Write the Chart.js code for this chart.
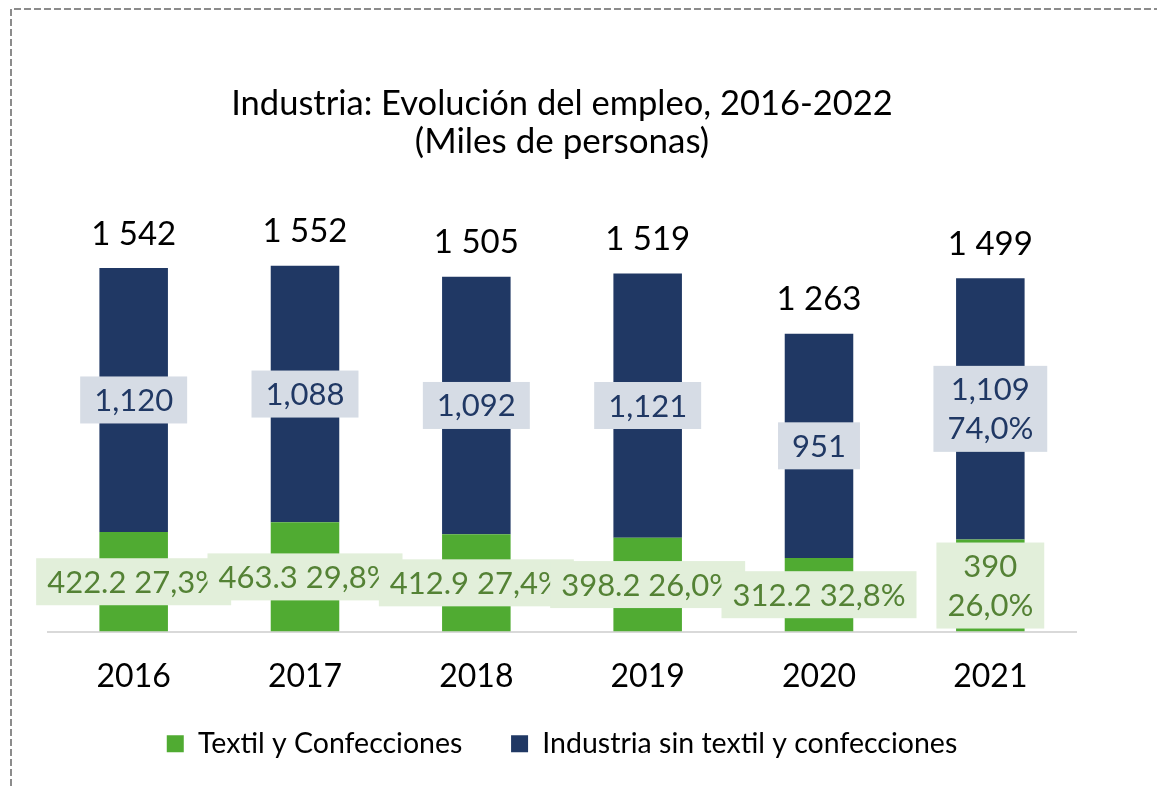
<!DOCTYPE html>
<html lang="es">
<head>
<meta charset="utf-8">
<title>Industria: Evolución del empleo</title>
<script src="https://cdn.jsdelivr.net/npm/chart.js@4.4.1/dist/chart.umd.min.js"></script>
<style>
  html, body { margin: 0; padding: 0; background: #fff; }
  #contenedor { position: relative; width: 1157px; height: 786px; }
</style>
</head>
<body>
<div id="contenedor"><canvas id="grafico" width="1157" height="786"></canvas></div>
<script>
// Datos (miles de personas)
const anios = ['2016', '2017', '2018', '2019', '2020', '2021'];
const textil = [422.2, 463.3, 412.9, 398.2, 312.2, 390];
const industria = [1120, 1088, 1092, 1121, 951, 1109];
const totales = [1542, 1552, 1505, 1519, 1263, 1499];
const pctTextil = ['27,3%', '29,8%', '27,4%', '26,0%', '32,8%', '26,0%'];
const pctIndustria = ['', '', '', '', '', '74,0%'];
const dosLineas = [false, false, false, false, false, true];

const VERDE = '#50ab32';
const AZUL = '#203864';
const FUENTE = 'Lato';

// "1542" -> "1 542"
function fmtTotal(v) {
    return String(v).replace(/\B(?=(\d{3})+(?!\d))/g, ' ');
}

// Caja de etiqueta con fondo, centrada en (x, y)
function caja(ctx, x, y, lineas, fondo, color, pad) {
    ctx.font = '31px ' + FUENTE;
    const ancho = Math.max(...lineas.map(l => ctx.measureText(l).width)) + pad * 2;
    const alto = 47 + (lineas.length - 1) * 39;
    ctx.fillStyle = fondo;
    ctx.fillRect(x - ancho / 2, y - alto / 2, ancho, alto);
    ctx.fillStyle = color;
    lineas.forEach((l, k) => {
        ctx.fillText(l, x, y - (lineas.length - 1) * 19.5 + k * 39 + 1);
    });
}

// Marco punteado y fondo blanco
const marco = {
    id: 'marco',
    beforeDraw(chart) {
        const ctx = chart.ctx;
        ctx.save();
        ctx.fillStyle = '#fff';
        ctx.fillRect(0, 0, chart.width, chart.height);
        ctx.strokeStyle = '#8c8c8c';
        ctx.lineWidth = 2;
        ctx.setLineDash([7, 3]);
        ctx.beginPath();
        ctx.moveTo(11, chart.height);
        ctx.lineTo(11, 9);
        ctx.lineTo(chart.width, 9);
        ctx.stroke();
        ctx.restore();
    }
};

// Etiquetas de valores y totales
const etiquetas = {
    id: 'etiquetas',
    afterDatasetsDraw(chart) {
        const ctx = chart.ctx;
        const metaT = chart.getDatasetMeta(0);
        const metaI = chart.getDatasetMeta(1);
        ctx.save();
        ctx.textAlign = 'center';
        ctx.textBaseline = 'middle';

        metaI.data.forEach((bar, i) => {
            const lineas = [industria[i].toLocaleString('en-US')];
            if (pctIndustria[i]) lineas.push(pctIndustria[i]);
            caja(ctx, bar.x, (bar.y + bar.base) / 2, lineas, '#d6dce5', AZUL, 14);
        });

        // en orden: cada caja verde tapa a la anterior
        metaT.data.forEach((bar, i) => {
            const lineas = dosLineas[i]
                ? [String(textil[i]), pctTextil[i]]
                : [textil[i] + ' ' + pctTextil[i]];
            caja(ctx, bar.x, (bar.y + bar.base) / 2, lineas, '#e2efda', '#548235', 11);
        });

        ctx.font = '33px ' + FUENTE;
        ctx.fillStyle = '#000';
        metaI.data.forEach((bar, i) => {
            ctx.fillText(fmtTotal(totales[i]), bar.x, bar.y - 34);
        });
        ctx.restore();
    }
};

const ctx = document.getElementById('grafico').getContext('2d');
new Chart(ctx, {
    type: 'bar',
    data: {
        labels: anios,
        datasets: [
            {
                label: 'Textil y Confecciones',
                data: textil,
                backgroundColor: VERDE,
                borderWidth: 0,
                barPercentage: 0.4,
                categoryPercentage: 1
            },
            {
                label: 'Industria sin textil y confecciones',
                data: industria,
                backgroundColor: AZUL,
                borderWidth: 0,
                barPercentage: 0.4,
                categoryPercentage: 1
            }
        ]
    },
    options: {
        responsive: false,
        animation: false,
        layout: { padding: { left: 48, right: 81, top: 0, bottom: 18 } },
        plugins: {
            title: {
                display: true,
                text: 'Industria: Evolución del empleo, 2016-2022',
                color: '#000',
                font: { family: FUENTE, size: 34.5, weight: 'normal' },
                padding: { top: 83, bottom: 0 }
            },
            subtitle: {
                display: true,
                text: '(Miles de personas)',
                color: '#000',
                font: { family: FUENTE, size: 35, lineHeight: 1 },
                padding: { top: 0, bottom: 3 }
            },
            legend: {
                position: 'bottom',
                labels: {
                    color: '#000',
                    font: { family: FUENTE, size: 28.5 },
                    boxWidth: 17,
                    boxHeight: 17,
                    padding: 20,
                    generateLabels(chart) {
                        const items = Chart.defaults.plugins.legend.labels.generateLabels(chart);
                        // separación extra entre las dos entradas
                        items.forEach((it, k) => { if (k < items.length - 1) it.text += '\u2003 '; });
                        return items;
                    }
                }
            },
            tooltip: { enabled: false }
        },
        scales: {
            x: {
                stacked: true,
                grid: { display: false, drawTicks: false },
                border: { color: '#d9d9d9', width: 2 },
                ticks: { color: '#000', font: { family: FUENTE, size: 32, lineHeight: 1.125 }, padding: 27 },
                afterFit(scale) { scale.height = 78; }
            },
            y: {
                stacked: true,
                display: false,
                min: 0,
                max: 1990
            }
        }
    },
    plugins: [marco, etiquetas]
});
</script>
</body>
</html>
